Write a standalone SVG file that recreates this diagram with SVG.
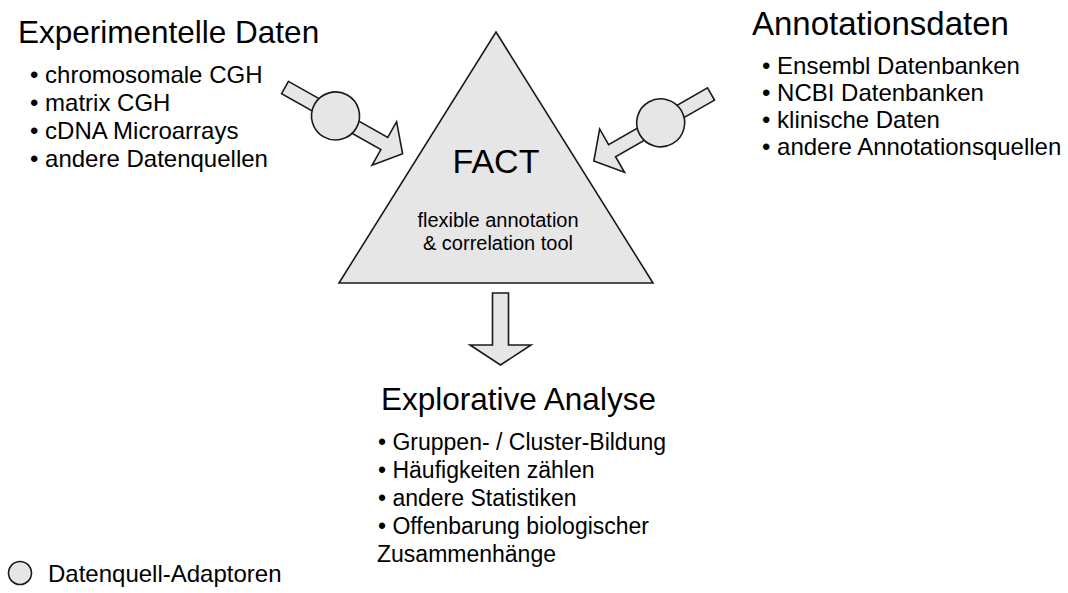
<svg xmlns="http://www.w3.org/2000/svg" width="1068" height="593" viewBox="0 0 1068 593">
  <style>
    .shape { fill: #e6e6e6; stroke: #1a1a1a; stroke-width: 1.6; stroke-linejoin: miter; }
    text { font-family: "Liberation Sans", Arial, sans-serif; fill: #000; }
    .title { font-size: 31.5px; }
    .item { font-size: 24px; }
    .item-s { font-size: 23px; }
    .fact { font-size: 34px; }
    .sub { font-size: 20px; }
  </style>
  <defs>
    <!-- block arrow with an adaptor circle, pointing along +x, tail at origin -->
    <g id="adaptorArrow">
      <path class="shape" d="M0,-7 L114,-7 L114,-25 L135,0 L114,25 L114,7 L0,7 Z"/>
      <circle class="shape" cx="58" cy="0" r="24"/>
    </g>
  </defs>

  <rect width="1068" height="593" fill="#ffffff"/>

  <!-- central tool -->
  <g id="fact">
    <polygon class="shape" points="496,32 653,283 339,283"/>
    <text class="fact" x="496" y="173" text-anchor="middle">FACT</text>
    <text class="sub" x="498" y="227" text-anchor="middle">flexible annotation</text>
    <text class="sub" x="498" y="250" text-anchor="middle">&amp; correlation tool</text>
  </g>

  <!-- inputs and output -->
  <g id="connectors">
    <use href="#adaptorArrow" transform="translate(285,87.5) rotate(29.4)"/>
    <use href="#adaptorArrow" transform="translate(711,94) rotate(150.2)"/>
    <path class="shape" d="M492.5,293 L508.5,293 L508.5,345 L531,345 L500.5,365 L470,345 L492.5,345 Z"/>
  </g>

  <g id="experimentelle-daten">
    <text class="title" x="18" y="43">Experimentelle Daten</text>
    <text class="item" x="30" y="83">• chromosomale CGH</text>
    <text class="item" x="30" y="111">• matrix CGH</text>
    <text class="item" x="30" y="139">• cDNA Microarrays</text>
    <text class="item" x="30" y="167">• andere Datenquellen</text>
  </g>

  <g id="annotationsdaten">
    <text class="title" x="752" y="35" style="font-size:33px">Annotationsdaten</text>
    <text class="item" x="762" y="74">• Ensembl Datenbanken</text>
    <text class="item" x="762" y="101">• NCBI Datenbanken</text>
    <text class="item" x="762" y="128">• klinische Daten</text>
    <text class="item" x="762" y="155">• andere Annotationsquellen</text>
  </g>

  <g id="explorative-analyse">
    <text class="title" x="381" y="410">Explorative Analyse</text>
    <text class="item-s" x="378" y="450">• Gruppen- / Cluster-Bildung</text>
    <text class="item-s" x="378" y="478">• Häufigkeiten zählen</text>
    <text class="item-s" x="378" y="506">• andere Statistiken</text>
    <text class="item-s" x="378" y="534">• Offenbarung biologischer</text>
    <text class="item-s" x="377" y="562">Zusammenhänge</text>
  </g>

  <g id="legend">
    <circle class="shape" cx="20" cy="573" r="11.5"/>
    <text class="item" x="48" y="582">Datenquell-Adaptoren</text>
  </g>
</svg>
